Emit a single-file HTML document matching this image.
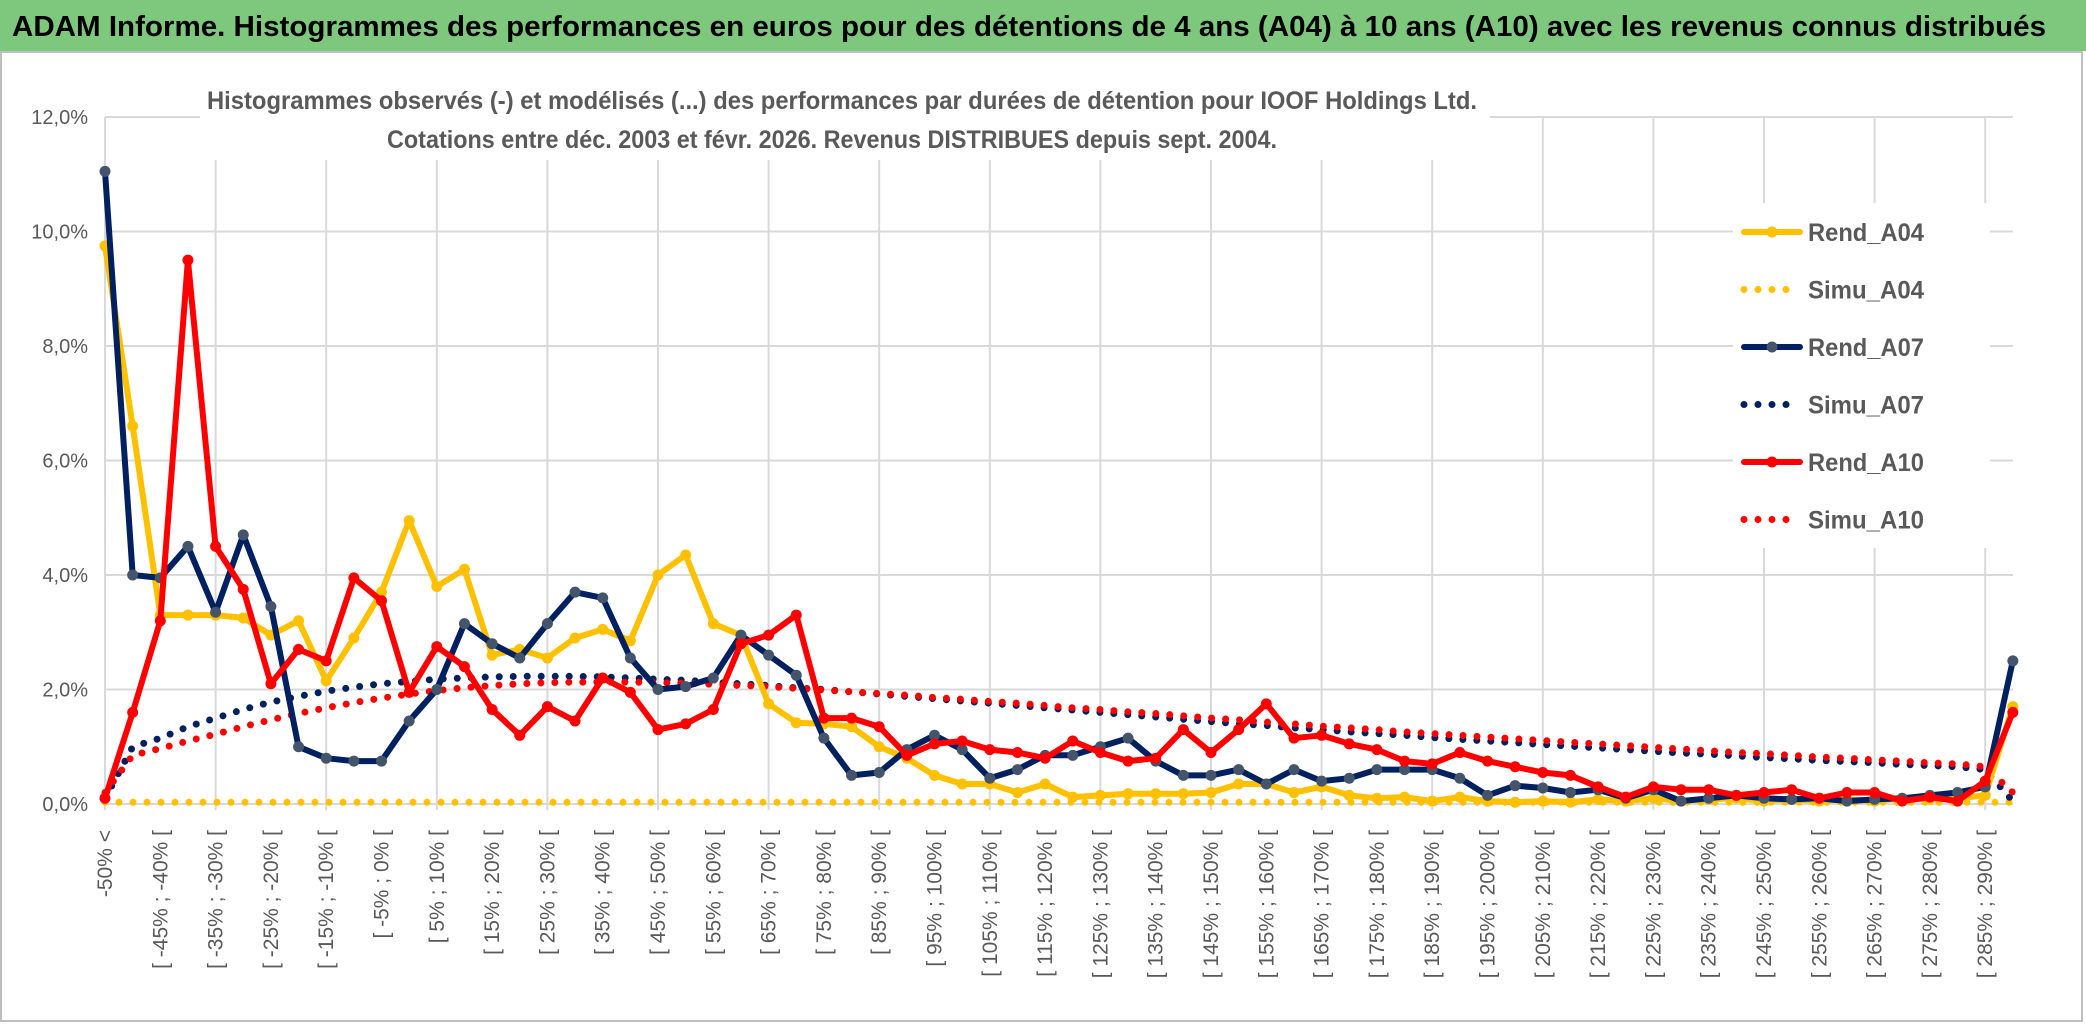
<!DOCTYPE html>
<html><head><meta charset="utf-8">
<style>
html,body{margin:0;padding:0;background:#fff;}
svg{display:block;font-family:"Liberation Sans",sans-serif;}
</style></head>
<body>
<svg id="chart" width="2086" height="1031" viewBox="0 0 2086 1031" xmlns="http://www.w3.org/2000/svg">
<rect x="0" y="0" width="2086" height="1031" fill="#fff"/>
<rect x="0" y="0" width="2086" height="51" fill="#7ec87e"/>
<text x="12" y="36" font-size="29" font-weight="bold" fill="#000" textLength="2034" lengthAdjust="spacingAndGlyphs">ADAM Informe. Histogrammes des performances en euros pour des détentions de 4 ans (A04) à 10 ans (A10) avec les revenus connus distribués</text>
<rect x="1" y="52" width="2081" height="969" fill="none" stroke="#bfbfbf" stroke-width="2"/>
<g id="grid"></g>
<rect x="200" y="78" width="1290" height="82" fill="#fff"/>
<rect x="1733" y="203" width="257" height="345" fill="#fff"/>
<text x="207" y="109" font-size="25" font-weight="bold" fill="#595959" textLength="1270" lengthAdjust="spacingAndGlyphs">Histogrammes observés (-) et modélisés (...) des performances par durées de détention pour IOOF Holdings Ltd.</text>
<text x="387" y="148" font-size="25" font-weight="bold" fill="#595959" textLength="890" lengthAdjust="spacingAndGlyphs">Cotations entre déc. 2003 et févr. 2026. Revenus DISTRIBUES depuis sept. 2004.</text>
<g id="ylabels"></g>
<g id="xlabels"></g>
<g id="series"></g>
<g id="legend"></g>
</svg>
<script>
const categories = (function(){const c=["-50% <"];for(let a=-50;a<295;a+=5){c.push("[ "+a+"% ; "+(a+5)+"% [");}return c;})();
const yTicks = [0,2,4,6,8,10,12];
const yTickLabels = ["0,0%","2,0%","4,0%","6,0%","8,0%","10,0%","12,0%"];
const rendA04 = [9.75,6.6,3.3,3.3,3.3,3.25,2.95,3.2,2.15,2.9,3.7,4.95,3.8,4.1,2.6,2.7,2.55,2.9,3.05,2.85,4.0,4.35,3.15,2.95,1.75,1.42,1.4,1.35,1.0,0.8,0.5,0.35,0.35,0.2,0.35,0.12,0.15,0.18,0.18,0.18,0.2,0.35,0.35,0.2,0.3,0.15,0.1,0.12,0.05,0.12,0.05,0.03,0.05,0.03,0.08,0.05,0.1,0.05,0.08,0.1,0.05,0.08,0.05,0.08,0.05,0.1,0.08,0.1,0.15,1.7];
const simuA04 = [0.03,0.03,0.03,0.03,0.03,0.03,0.03,0.03,0.03,0.03,0.03,0.03,0.03,0.03,0.03,0.03,0.03,0.03,0.03,0.03,0.03,0.03,0.03,0.03,0.03,0.03,0.03,0.03,0.03,0.03,0.03,0.03,0.03,0.03,0.03,0.03,0.03,0.03,0.03,0.03,0.03,0.03,0.03,0.03,0.03,0.03,0.03,0.03,0.03,0.03,0.03,0.03,0.03,0.03,0.03,0.03,0.03,0.03,0.03,0.03,0.03,0.03,0.03,0.03,0.03,0.03,0.03,0.03,0.03,0.03];
const rendA07 = [11.05,4.0,3.95,4.5,3.35,4.7,3.45,1.0,0.8,0.75,0.75,1.45,2.0,3.15,2.8,2.55,3.15,3.7,3.6,2.55,2.0,2.05,2.2,2.95,2.6,2.25,1.15,0.5,0.55,0.95,1.2,0.95,0.45,0.6,0.85,0.85,1.0,1.15,0.75,0.5,0.5,0.6,0.35,0.6,0.4,0.45,0.6,0.6,0.6,0.45,0.15,0.32,0.28,0.2,0.25,0.1,0.25,0.05,0.1,0.15,0.1,0.08,0.1,0.05,0.08,0.1,0.15,0.2,0.3,2.5];
const simuA07 = [0.1,1.0,1.15,1.35,1.5,1.65,1.78,1.88,1.97,2.04,2.1,2.14,2.18,2.2,2.22,2.23,2.23,2.23,2.22,2.2,2.18,2.16,2.13,2.1,2.07,2.03,2.0,1.96,1.92,1.88,1.84,1.8,1.76,1.72,1.68,1.64,1.6,1.56,1.52,1.48,1.44,1.4,1.37,1.33,1.3,1.26,1.23,1.2,1.16,1.13,1.1,1.07,1.04,1.01,0.98,0.95,0.92,0.89,0.87,0.84,0.81,0.79,0.76,0.74,0.72,0.69,0.67,0.65,0.6,0.05];
const rendA10 = [0.1,1.6,3.2,9.5,4.5,3.75,2.1,2.7,2.5,3.95,3.55,1.95,2.75,2.4,1.65,1.2,1.7,1.45,2.2,1.95,1.3,1.4,1.65,2.8,2.95,3.3,1.5,1.5,1.35,0.85,1.05,1.1,0.95,0.9,0.8,1.1,0.9,0.75,0.8,1.3,0.9,1.3,1.75,1.15,1.2,1.05,0.95,0.75,0.7,0.9,0.75,0.65,0.55,0.5,0.3,0.12,0.3,0.25,0.25,0.15,0.2,0.25,0.1,0.2,0.2,0.05,0.12,0.05,0.4,1.6];
const simuA10 = [0.2,0.85,0.97,1.1,1.22,1.35,1.47,1.58,1.68,1.77,1.85,1.92,1.98,2.03,2.07,2.1,2.12,2.13,2.13,2.13,2.12,2.11,2.09,2.07,2.05,2.02,1.99,1.96,1.93,1.9,1.86,1.83,1.79,1.76,1.72,1.68,1.65,1.61,1.58,1.54,1.5,1.47,1.43,1.4,1.36,1.33,1.3,1.26,1.23,1.2,1.17,1.14,1.11,1.08,1.05,1.02,0.99,0.96,0.93,0.9,0.88,0.85,0.82,0.8,0.77,0.75,0.72,0.7,0.65,0.2];

const NS="http://www.w3.org/2000/svg";
const X0=105, DX=27.65, Y0=804, PY=57.25;
function xs(i){return X0+i*DX;}
function ys(v){return Y0-v*PY;}
function mk(tag,attrs,parent){const e=document.createElementNS(NS,tag);for(const k in attrs)e.setAttribute(k,attrs[k]);parent.appendChild(e);return e;}

const grid=document.getElementById('grid');
const xEnd=xs(categories.length-1);
yTicks.forEach(function(t){
  const l=mk('line',{x1:X0,x2:xEnd,y1:ys(t),y2:ys(t),stroke:'#d9d9d9','stroke-width':2},grid);
  
  
});
for(let i=0;i<categories.length;i+=4){
  const l=mk('line',{x1:xs(i),x2:xs(i),y1:ys(12),y2:ys(0)+6,stroke:'#d9d9d9','stroke-width':2},grid);
  
  
}
const yl=document.getElementById('ylabels');
yTicks.forEach(function(t,k){
  const e=mk('text',{x:88,y:ys(t)+7,'text-anchor':'end','font-size':20,fill:'#595959'},yl);
  e.textContent=yTickLabels[k];
  
  
});
const xl=document.getElementById('xlabels');
categories.forEach(function(c,i){
  if(i%2!==0)return;
  const x=xs(i)+7, y=830;
  const e=mk('text',{x:x,y:y,'text-anchor':'end','font-size':21,fill:'#595959',transform:'rotate(-90 '+x+' '+y+')'},xl);
  e.textContent=c;
  
  
});

const sg=document.getElementById('series');
function pathD(vals){return vals.map(function(v,i){return (i?'L':'M')+xs(i).toFixed(1)+' '+ys(v).toFixed(1);}).join(' ');}
function dotted(vals,color,name){
  const p=mk('path',{d:pathD(vals),fill:'none',stroke:color,'stroke-width':7,'stroke-linecap':'round','stroke-dasharray':'0 14'},sg);
  
  
}
function solid(vals,color,mcolor,name){
  const p=mk('path',{d:pathD(vals),fill:'none',stroke:color,'stroke-width':6,'stroke-linejoin':'round'},sg);
  
  
  vals.forEach(function(v,i){
    const c=mk('circle',{cx:xs(i),cy:ys(v),r:5.5,fill:mcolor},sg);
    
    
  });
}
dotted(simuA04,'#ffc000','simu-a04-line');
dotted(simuA07,'#002060','simu-a07-line');
dotted(simuA10,'#ff0000','simu-a10-line');
solid(rendA04,'#ffc000','#ffc000','rend-a04-line');
solid(rendA07,'#002060','#44546a','rend-a07-line');
solid(rendA10,'#ff0000','#ff0000','rend-a10-line');

const lg=document.getElementById('legend');
const legendItems=[["Rend_A04","#ffc000",false],["Simu_A04","#ffc000",true],["Rend_A07","#002060",false],["Simu_A07","#002060",true],["Rend_A10","#ff0000",false],["Simu_A10","#ff0000",true]];
legendItems.forEach(function(it,k){
  const y=232+k*57.5;
  const g=mk('g',{},lg);
  
  
  if(it[2]){
    mk('line',{x1:1744,x2:1800,y1:y,y2:y,stroke:it[1],'stroke-width':7,'stroke-linecap':'round','stroke-dasharray':'0 14'},g);
  } else {
    mk('line',{x1:1744,x2:1800,y1:y,y2:y,stroke:it[1],'stroke-width':6,'stroke-linecap':'round'},g);
    mk('circle',{cx:1772,cy:y,r:5.5,fill:it[1]==='#002060'?'#44546a':it[1]},g);
  }
  const t=mk('text',{x:1808,y:y+9,'font-size':25,'font-weight':'bold',fill:'#595959',textLength:116,lengthAdjust:'spacingAndGlyphs'},g);
  t.textContent=it[0];
});
</script>
</body></html>
